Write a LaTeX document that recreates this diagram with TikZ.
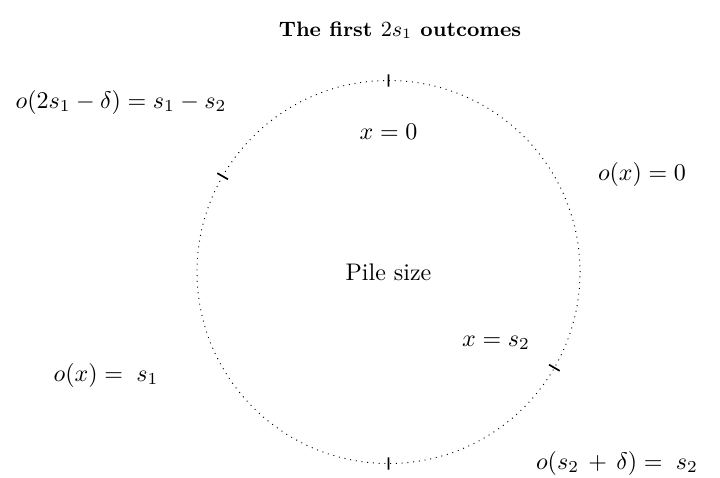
\documentclass[tikz,border=0pt]{standalone}
\usetikzlibrary{calc}
\begin{document}
\begin{tikzpicture}[x=0.41667pt,y=-0.41667pt,
  lbl/.style={inner sep=0pt},
  tickmark/.style={line width=0.7pt},
  pilecircle/.style={circle, draw, dotted, inner sep=0pt, outer sep=0pt, minimum size=159.6pt}]
\useasboundingbox (0,0) rectangle (720,477);
\node[lbl, font=\fontsize{8.7}{10}\selectfont\bfseries] (title) at (400,30) {The first $2s_1$ outcomes};
\node[pilecircle] (pile) at (388.5,272) {Pile size};
\foreach \a in {90,150,270,330}{
  \draw[tickmark] ($(pile.center)!0.968!(pile.\a)$) -- ($(pile.center)!1.032!(pile.\a)$);
}
\node[lbl] (x0) at (388.5,132) {$x = 0$};
\node[lbl] (xs2) at (496,343) {$x = s_2$};
\node[lbl] (o0) at (642,174) {$o(x) = 0$};
\node[lbl] (o2s) at (121,102) {$o(2s_1 - \delta) = s_1 - s_2$};
\node[lbl] (os1) at (106,375) {$o(x) =\; s_1$};
\node[lbl] (os2) at (617,463) {$o(s_2 \,+\, \delta) =\; s_2$};
\end{tikzpicture}
\end{document}
